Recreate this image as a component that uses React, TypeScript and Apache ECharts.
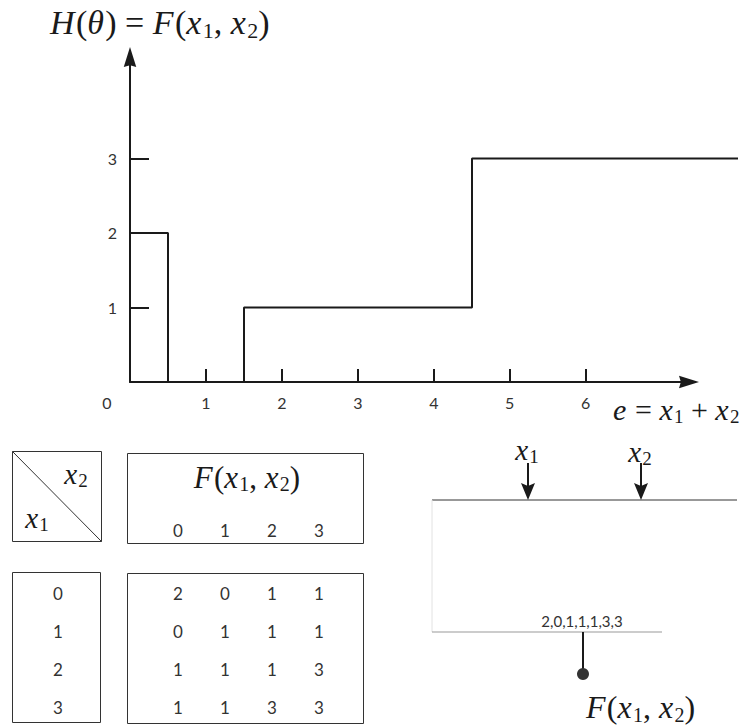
import React, { useEffect, useRef } from "react";
import * as echarts from "echarts";

// Step function H(θ) = F(x1, x2) over e = x1 + x2
const eEdges = [0, 0.5, 1.5, 4.5];
const hLevels = [2, 0, 1, 3];
const eEnd = 8;

const xTickValues = [1, 2, 3, 4, 5, 6];
const xLabelValues = [0, 1, 2, 3, 4, 5, 6];
const yTickValues = [1, 2, 3];

// Lookup table F(x1, x2)
const x1Values = [0, 1, 2, 3];
const x2Values = [0, 1, 2, 3];
const fTable = [
  [2, 0, 1, 1],
  [0, 1, 1, 1],
  [1, 1, 1, 3],
  [1, 1, 3, 3],
];
const sequenceLabel = "2,0,1,1,1,3,3";

const INK = "#1a1a1a";
const TEXT = "#333";
const SERIF = '"Liberation Serif", "Times New Roman", serif';
const SANS = 'Lato, "Open Sans", sans-serif';

type Seg = [string, "i" | "n" | "s"];

let measureCtx: CanvasRenderingContext2D | null = null;
function measure(text: string, font: string): number {
  if (!measureCtx) measureCtx = document.createElement("canvas").getContext("2d");
  measureCtx!.font = font;
  return measureCtx!.measureText(text).width;
}

// Builds a group of text pieces with italic letters and lowered subscripts
function mathText(segs: Seg[], x: number, y: number, size: number, align: "left" | "center" | "right") {
  const items = segs.map(([t, k]) => {
    const fs = k === "s" ? Math.round(size * 0.64) : size;
    const fontStyle = k === "i" ? "italic" : "normal";
    const w = measure(t, `${fontStyle} ${fs}px ${SERIF}`) + (k === "i" ? size * 0.04 : 0);
    return { t, k, fs, fontStyle, w };
  });
  const total = items.reduce((a, b) => a + b.w, 0);
  let cx = align === "left" ? x : align === "center" ? x - total / 2 : x - total;
  const children = items.map((it) => {
    const el = {
      type: "text",
      x: cx,
      y: it.k === "s" ? y + size * 0.24 : y,
      style: {
        text: it.t,
        fill: INK,
        fontSize: it.fs,
        fontStyle: it.fontStyle,
        fontFamily: SERIF,
        align: "left",
        verticalAlign: "middle",
        textAlign: "left",
        textVerticalAlign: "middle",
      },
    };
    cx += it.w;
    return el;
  });
  return { type: "group", children };
}

function plainText(text: string, x: number, y: number, size: number) {
  return {
    type: "text",
    x,
    y,
    style: {
      text,
      fill: TEXT,
      fontSize: size,
      fontFamily: SANS,
      align: "center",
      verticalAlign: "middle",
      textAlign: "center",
      textVerticalAlign: "middle",
    },
  };
}

function box(x: number, y: number, w: number, h: number) {
  return {
    type: "rect",
    shape: { x, y, width: w, height: h },
    style: { fill: "none", stroke: "#333", lineWidth: 1 },
  };
}

function seg(x1: number, y1: number, x2: number, y2: number, color: string, width: number) {
  return {
    type: "line",
    shape: { x1, y1, x2, y2 },
    style: { stroke: color, lineWidth: width },
  };
}

function downArrow(x: number, yTop: number, yTip: number) {
  return {
    type: "group",
    children: [
      seg(x, yTop, x, yTip - 12, INK, 2),
      {
        type: "polygon",
        shape: { points: [[x - 7, yTip - 17], [x, yTip - 14], [x + 7, yTip - 17], [x, yTip]] },
        style: { fill: INK },
      },
    ],
  };
}

const x1Sym: Seg[] = [["x", "i"], ["1", "s"]];
const x2Sym: Seg[] = [["x", "i"], ["2", "s"]];
const fSym: Seg[] = [["F", "i"], ["(", "n"], ["x", "i"], ["1", "s"], [", ", "n"], ["x", "i"], ["2", "s"], [")", "n"]];

export default function App() {
  const ref = useRef<HTMLDivElement>(null);

  useEffect(() => {
    if (!ref.current) return;
    const chart = echarts.init(ref.current, undefined, { renderer: "svg" });

    const stepData: number[][] = eEdges.map((e, i) => [e, hLevels[i]]);
    stepData.push([eEnd, hLevels[hLevels.length - 1]]);

    const colX = (j: number) => 178 + j * 47;
    const rowY = (i: number) => 593 + i * 38;

    const graphics: any[] = [
      mathText(
        [["H", "i"], ["(", "n"], ["θ", "i"], [")", "n"], [" = ", "n"], ...fSym],
        50, 22, 34, "left"
      ),
      mathText([["e", "i"], [" = ", "n"], ...x1Sym, [" + ", "n"], ...x2Sym], 613, 409, 30, "left"),

      // header boxes
      box(12.5, 451.5, 89, 90),
      seg(12.5, 451.5, 101.5, 541.5, "#333", 1),
      mathText(x2Sym, 76, 474, 29, "center"),
      mathText(x1Sym, 37, 518, 29, "center"),
      box(127.5, 453.5, 236, 90),
      mathText(fSym, 247, 477, 31, "center"),
      ...x2Values.map((v, j) => plainText(String(v), colX(j), 530, 17)),

      // body boxes
      box(12.5, 572.5, 88, 150),
      ...x1Values.map((v, i) => plainText(String(v), 58, rowY(i), 17)),
      box(127.5, 573.5, 236, 150),
      ...fTable.flatMap((row, i) => row.map((v, j) => plainText(String(v), colX(j), rowY(i), 17))),

      // lookup diagram
      mathText(x1Sym, 527, 450, 29, "center"),
      mathText(x2Sym, 640, 452, 29, "center"),
      downArrow(528, 463, 500),
      downArrow(641, 463, 500),
      seg(432, 500, 737, 500, "#333", 1),
      seg(432, 500, 432, 632, "#e2e2e2", 1),
      seg(432, 632, 662, 632, "#999", 1),
      plainText(sequenceLabel, 582, 621, 15),
      seg(583, 632, 583, 670, INK, 2),
      { type: "circle", shape: { cx: 583, cy: 674, r: 6 }, style: { fill: "#333" } },
      mathText(fSym, 586, 707, 32, "left"),
    ];

    const arrowPath = "path://M5,0L10,16L5,14.5L0,16Z";
    const gridBox = { top: 57, bottom: 345, left: 130 };

    chart.setOption({
      animation: false,
      backgroundColor: "#fff",
      grid: [
        // visible axes, the x arrow stops short of the right edge
        { ...gridBox, right: 53, outerBoundsMode: "none" },
        // the step line runs on to the right edge with the same scale
        { ...gridBox, right: 4, outerBoundsMode: "none" },
      ],
      xAxis: [
        {
          type: "value",
          gridIndex: 0,
          min: 0,
          max: 7.36,
          splitLine: { show: false },
          axisLine: {
            show: true,
            onZero: false,
            symbol: ["none", arrowPath],
            symbolSize: [16, 20],
            lineStyle: { color: INK, width: 2 },
          },
          axisTick: {
            show: true,
            inside: true,
            length: 13,
            customValues: xTickValues,
            lineStyle: { color: INK, width: 2 },
          },
          axisLabel: {
            customValues: xLabelValues,
            margin: 12,
            color: TEXT,
            fontSize: 16,
            fontFamily: SANS,
            formatter: (v: number) => (v === 0 ? "{z|0}" : String(v)),
            rich: { z: { padding: [0, 46, 0, 0], fontSize: 16, fontFamily: SANS, color: TEXT } },
          },
        },
        { type: "value", gridIndex: 1, min: 0, max: 8, show: false },
      ],
      yAxis: [
        {
          type: "value",
          gridIndex: 0,
          min: 0,
          max: 4.36,
          splitLine: { show: false },
          axisLine: {
            show: true,
            onZero: false,
            symbol: ["none", arrowPath],
            symbolSize: [16, 20],
            lineStyle: { color: INK, width: 2 },
          },
          axisTick: {
            show: true,
            inside: true,
            length: 19,
            customValues: yTickValues,
            lineStyle: { color: INK, width: 2 },
          },
          axisLabel: {
            customValues: yTickValues,
            margin: 13,
            color: TEXT,
            fontSize: 16,
            fontFamily: SANS,
          },
        },
        { type: "value", gridIndex: 1, min: 0, max: 4.36, show: false },
      ],
      series: [
        {
          type: "line",
          xAxisIndex: 1,
          yAxisIndex: 1,
          step: "end",
          data: stepData,
          symbol: "none",
          clip: false,
          lineStyle: { color: INK, width: 2 },
        },
      ],
      graphic: graphics,
    });

    return () => chart.dispose();
  }, []);

  return (
    <div
      ref={ref}
      style={{ position: "fixed", left: 0, top: 0, width: 742, height: 727, background: "#fff" }}
    />
  );
}
